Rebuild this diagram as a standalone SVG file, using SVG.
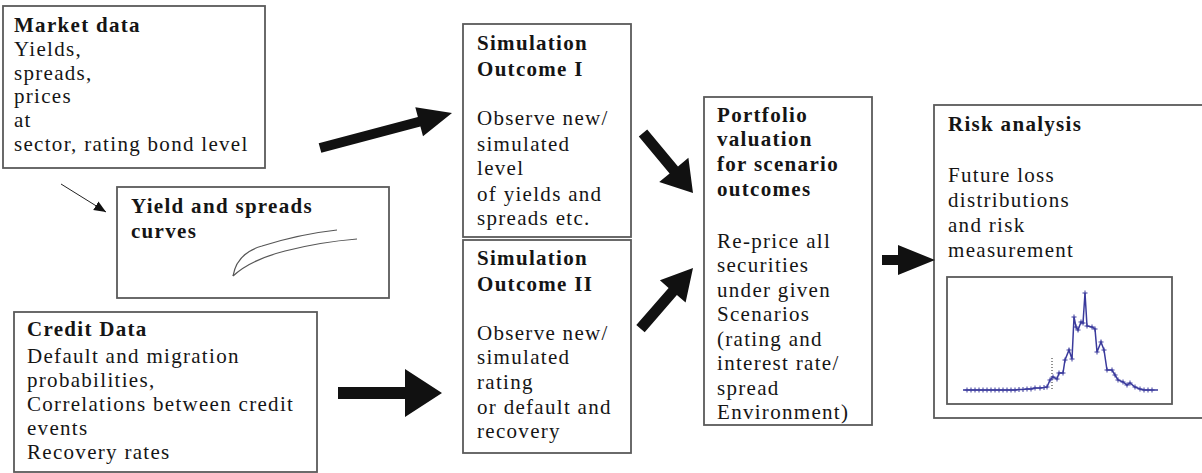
<svg xmlns="http://www.w3.org/2000/svg" width="1202" height="473" viewBox="0 0 1202 473">
  <style>
    .box { fill: #ffffff; stroke: #5a5a5a; stroke-width: 1.8; }
    .t { font-family: "Liberation Serif", "Times New Roman", serif; font-size: 21px; letter-spacing: 1.3px; fill: #151515; }
    .b { font-weight: bold; }
    .arrow { fill: #111111; stroke: none; }
    .thin { stroke: #222222; stroke-width: 1; fill: none; }
    .curve { stroke: #555555; stroke-width: 1.2; fill: none; }
    .trace { stroke: #3a3a9c; stroke-width: 1.5; fill: none; }
  </style>
  <defs>
    <marker id="small-head" markerUnits="userSpaceOnUse" markerWidth="14" markerHeight="12" refX="12" refY="5" orient="auto">
      <path d="M0,0 L12,5 L0,10 Z" fill="#111111"/>
    </marker>
    <marker id="tick" markerUnits="userSpaceOnUse" markerWidth="6" markerHeight="6" refX="3" refY="3" orient="0">
      <path d="M0.5,3 H5.5 M3,0.5 V5.5" stroke="#3a3a9c" stroke-width="1"/>
    </marker>
  </defs>
  <rect width="1202" height="473" fill="#ffffff"/>

  <g id="market-data">
    <rect class="box" x="3" y="6" width="262" height="162"/>
    <text class="t b" x="14" y="32">Market data</text>
    <text class="t" x="14" y="56">Yields,</text>
    <text class="t" x="14" y="80">spreads,</text>
    <text class="t" x="14" y="103">prices</text>
    <text class="t" x="14" y="127">at</text>
    <text class="t" x="14" y="151">sector, rating bond level</text>
  </g>

  <g id="yield-curves">
    <rect class="box" x="117" y="187" width="272" height="111"/>
    <text class="t b" x="131" y="213">Yield and spreads</text>
    <text class="t b" x="131" y="238">curves</text>
    <path class="curve" d="M233,276 Q237,253 262,246 Q300,234 337,230"/>
    <path class="curve" d="M233,276 Q250,260 285,251 Q320,242 357,239"/>
  </g>

  <g id="credit-data">
    <rect class="box" x="14" y="312" width="303" height="160"/>
    <text class="t b" x="27" y="336">Credit Data</text>
    <text class="t" x="27" y="363">Default and migration</text>
    <text class="t" x="27" y="387">probabilities,</text>
    <text class="t" x="27" y="411">Correlations between credit</text>
    <text class="t" x="27" y="435">events</text>
    <text class="t" x="27" y="459">Recovery rates</text>
  </g>

  <g id="simulation-1">
    <rect class="box" x="463" y="24" width="168" height="213"/>
    <text class="t b" x="477" y="50">Simulation</text>
    <text class="t b" x="477" y="76">Outcome I</text>
    <text class="t" x="477" y="125">Observe new/</text>
    <text class="t" x="477" y="151">simulated</text>
    <text class="t" x="477" y="175">level</text>
    <text class="t" x="477" y="201">of yields and</text>
    <text class="t" x="477" y="225">spreads etc.</text>
  </g>

  <g id="simulation-2">
    <rect class="box" x="463" y="240" width="168" height="213"/>
    <text class="t b" x="477" y="265">Simulation</text>
    <text class="t b" x="477" y="291">Outcome II</text>
    <text class="t" x="477" y="340">Observe new/</text>
    <text class="t" x="477" y="364">simulated</text>
    <text class="t" x="477" y="389">rating</text>
    <text class="t" x="477" y="414">or default and</text>
    <text class="t" x="477" y="438">recovery</text>
  </g>

  <g id="portfolio-valuation">
    <rect class="box" x="704" y="97" width="168" height="328"/>
    <text class="t b" x="717" y="122">Portfolio</text>
    <text class="t b" x="717" y="146">valuation</text>
    <text class="t b" x="717" y="171">for scenario</text>
    <text class="t b" x="717" y="196">outcomes</text>
    <text class="t" x="717" y="248">Re-price all</text>
    <text class="t" x="717" y="272">securities</text>
    <text class="t" x="717" y="297">under given</text>
    <text class="t" x="717" y="321">Scenarios</text>
    <text class="t" x="717" y="346">(rating and</text>
    <text class="t" x="717" y="370">interest rate/</text>
    <text class="t" x="717" y="395">spread</text>
    <text class="t" x="717" y="419">Environment)</text>
  </g>

  <g id="risk-analysis">
    <rect class="box" x="934" y="105" width="280" height="313"/>
    <text class="t b" x="948" y="131">Risk analysis</text>
    <text class="t" x="948" y="182">Future loss</text>
    <text class="t" x="948" y="207">distributions</text>
    <text class="t" x="948" y="232">and risk</text>
    <text class="t" x="948" y="257">measurement</text>
    <rect class="box" x="947" y="277" width="225" height="127"/>
    <line x1="1052" y1="358" x2="1052" y2="391" stroke="#222222" stroke-width="1" stroke-dasharray="1,2"/>
    <polyline class="trace" marker-mid="url(#tick)" points="963,390 967,390 971,390 975,390 979,390 983,390 987,390 991,390 995,390 999,390 1003,390 1007,390 1011,390 1015,390 1019,389.5 1023,389.5 1027,389 1031,389 1035,388 1040,388 1044,387.5 1047,387 1050,380 1053,377 1057,379 1059,373 1063,373 1065,360 1069,350 1072,359 1074,317 1076,327 1078,330 1081,322 1083,323 1085,293 1087,326 1092,327 1095,329 1097,352 1101,342 1104,350 1107,370 1112,370 1115,375 1118,380 1123,382 1127,385 1130,383 1135,387 1140,389 1144,390 1148,390 1152,390 1158,390"/>
  </g>

  <g id="connectors">
    <line class="thin" x1="61" y1="184" x2="106" y2="212" marker-end="url(#small-head)"/>
    <polygon class="arrow" points="321.3,152.8 420.4,126.5 423.0,136.2 452,113 415.3,107.2 417.9,116.9 318.7,143.2"/>
    <polygon class="arrow" points="638.8,136.5 669.6,173.5 659.2,182.1 693,193 688.4,157.8 678.0,166.4 647.2,129.5"/>
    <polygon class="arrow" points="644.7,332.3 676.9,295.1 685.6,302.6 693,268 659.9,280.3 668.6,287.9 636.3,325.1"/>
    <polygon class="arrow" points="338,387 405,387 405,369 442,393 405,417 405,399 338,399"/>
    <polygon class="arrow" points="882,255 898,255 898,245 935,260 898,275 898,265 882,265"/>
  </g>
</svg>
